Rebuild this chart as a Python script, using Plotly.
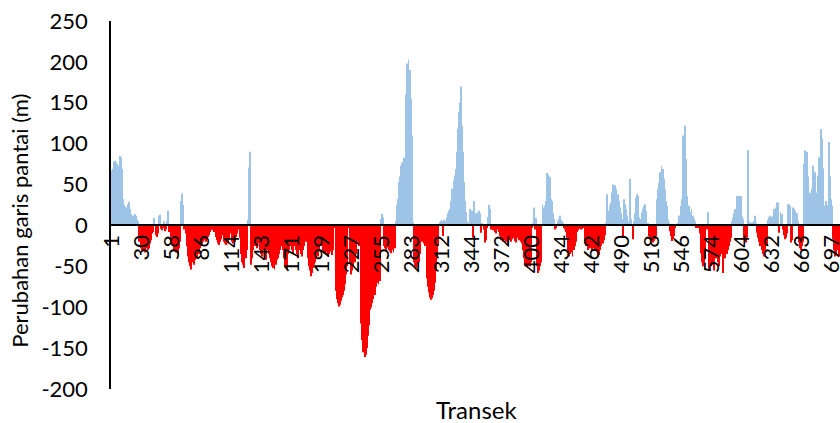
import plotly.graph_objects as go

# Tick labels of the transect (category) axis, one every 28 bars
tick_labels = ["1", "30", "58", "86", "114", "143", "171", "199", "227", "255",
               "283", "312", "344", "372", "400", "434", "462", "490", "518",
               "546", "574", "604", "632", "663", "697"]

# Shoreline change (m) per transect, grouped by tick interval
seg00 = [67, 69, 78, 79, 77, 75, 73, 71, 85, 83, 69, 32, 25, 23, 22, 26, 29, 20, 14, 12,
         12, 9, 14, 12, 7, 5, -20, -28]
seg01 = [-30, -32, -30, -33, -28, -25, -30, -28, -22, -18, -10, -8, 9, -12, -14, -10, 12, 13,
         -4, -6, -3, 5, -7, -5, 5, 18, -8, -15]
seg02 = [-22, -25, -30, -32, -33, -30, -35, -28, -20, 30, 39, 25, -5, -10, -25, -38, -45,
         -50, -54, -45, -40, -48, -42, -36, -40, -30, -35, -28]
seg03 = [-22, -20, -18, -15, -20, -17, -14, -12, -8, -5, -3, -6, -8, -14, -18, -22, -24,
         -20, -17, -12, -3, -20, -22, -24, -20, -22, -17, -10]
seg04 = [-20, -22, -18, -20, -14, -10, -5, -4, -15, -35, -45, -48, -52, -40, -30, 7, 71, 90,
         -48, -40, -30, -15, -25, -20, -28, -22, -30, -35]
seg05 = [-38, -30, -25, -35, -42, -3, -30, -35, -40, -45, -50, -52, -54, -48, -42, -40, -35,
         -30, -3, -25, -30, -40, -50, -45, -54, -35, -30, -25]
seg06 = [-30, -35, -3, -25, -30, -35, -40, -30, -28, -35, -38, -30, -25, -20, -3, -40, -50,
         -55, -62, -58, -52, -48, -45, -40, -35, -38, -30, -25]
seg07 = [-3, -30, -32, -35, -30, -33, -38, -35, -30, -32, -36, -30, -3, -80, -90, -95, -99,
         -97, -92, -88, -85, -80, -72, -60, -50, -3, -45, -60]
seg08 = [-55, -50, -40, -45, -35, -20, -18, -25, -3, -120, -140, -155, -161, -158, -150,
         -135, -122, -103, -100, -95, -90, -80, -85, -75, -70, -72, -68, 8]
seg09 = [14, 10, -25, -28, -30, -27, -22, -30, -32, -34, -30, -33, -28, 5, 25, 32, 53, 60,
         73, 77, 70, 83, 67, 160, 198, 203, 190, 155]
seg10 = [110, 4, -45, -50, -52, -48, -40, -45, -35, -3, -20, -22, -25, -3, -65, -75, -82,
         -88, -91, -89, -85, -80, -70, -55, -40, -25, 4, 6]
seg11 = [5, -13, 7, 3, 5, 10, 15, 18, 20, 30, 45, 55, 61, 69, 90, 118, 139, 150, 170, 122,
         90, 53, 30, 16, 5, 3, 20, 18]
seg12 = [18, -15, 30, 12, 15, 12, 16, 18, 15, -9, 3, -5, -21, -18, -3, 10, 25, 20, -5, -4,
         -6, -3, -8, -10, -5, -8, -13, -18]
seg13 = [-15, -20, -18, -14, -20, -16, -22, -18, -13, -20, -17, -15, -19, -21, -15, -13,
         -18, -16, -20, -22, -30, -40, -48, -50, -52, -50, -50, -45]
seg14 = [-3, 3, 22, -5, 9, -50, -58, -55, -50, -45, 26, 22, 24, 30, 64, 62, 60, 59, 32, 30,
         15, 8, -5, -3, 5, 8, 12, 7]
seg15 = [5, 3, -3, -5, -8, -15, -30, -38, -35, -33, -38, -30, -25, -20, -8, -6, -4, -3, -5,
         -4, -3, -2, -22, -25, -30, -27, -28, -25]
seg16 = [-30, -28, -26, -30, -28, -32, -38, -36, -30, -25, -22, -18, -12, 3, 38, 12, 18, 24,
         28, 40, 50, 48, 49, 45, 38, 30, 22, 15]
seg17 = [8, -15, 32, 26, 20, 12, 5, 3, 57, 8, -17, 5, 15, 34, 38, 36, 10, 8, 5, 16, 20, 24,
         26, 18, 3, -13, -15, -18]
seg18 = [-20, -21, -19, -17, -13, 32, 45, 52, 65, 73, 69, 57, 44, 30, 24, 7, 3, -7, -13, -19,
         -17, -13, -3, 2, 3, 12, 12, 24]
seg19 = [32, 110, 50, 122, 81, 36, 20, 24, 16, 20, 12, 8, 5, -3, -2, -3, -2, -10, -34, -45,
         -50, -48, -40, -5, 16, -54, -45, -50]
seg20 = [-48, -42, -55, -35, -40, -30, -45, -50, -38, -35, -58, -30, -40, -28, -35, -30, -25,
         -20, -15, 5, 10, 15, 20, 36, 35, 36, 30, 36]
seg21 = [12, 8, -17, -20, -21, -15, 92, 5, 3, 4, 2, 5, 12, 3, -9, -15, -20, -25, -22, -30,
         -35, -38, -30, -25, 7, 10, 12, 8]
seg22 = [10, 12, 20, 20, 22, 28, 28, -9, 16, 14, -5, -12, -17, -15, -10, 26, 26, 24, -21, -18,
         22, 20, 18, 15, 5, -21, -28, -30]
seg23 = [-25, -20, 75, 92, 85, 90, 60, 40, 40, 45, 73, 65, 65, 38, 40, 61, 83, 83, 118, 106,
         70, 24, 30, 20, 25, 102, 60, 32]
seg24 = [24, -17, -30, -38, -35, -25, -30, -38]

values = (seg00 + seg01 + seg02 + seg03 + seg04 + seg05 + seg06 + seg07 + seg08 + seg09 +
          seg10 + seg11 + seg12 + seg13 + seg14 + seg15 + seg16 + seg17 + seg18 + seg19 +
          seg20 + seg21 + seg22 + seg23 + seg24)

y_ticks = [-200, -150, -100, -50, 0, 50, 100, 150, 200, 250]
y_tick_text = ["-200", "-150", "-100", "-50", "0", "50", "100", "150", "200", "250"]

BLUE = "#9DC3E6"
RED = "#FF0000"
FONT = "Lato, 'Liberation Sans', sans-serif"

positions = list(range(len(values)))
colors = [BLUE if v >= 0 else RED for v in values]
tick_positions = [positions[i * 28] for i in range(len(tick_labels))]

fig = go.Figure(go.Bar(x=positions, y=values, marker=dict(color=colors, line_width=0),
                       hoverinfo="x+y"))

ymin, ymax = -200, 250
fig.update_layout(
    width=840, height=423,
    margin=dict(l=111, r=0, t=21, b=34),
    paper_bgcolor="white", plot_bgcolor="white",
    bargap=0.1,
    showlegend=False,
    font=dict(family=FONT, size=22, color="#000000"),
    xaxis=dict(
        range=[-0.5, len(values) - 0.5],
        tickmode="array", tickvals=tick_positions, ticktext=tick_labels,
        tickangle=-90, ticks="", showgrid=False, zeroline=False,
        showline=True, linecolor="black", linewidth=1.5,
        anchor="free", position=(0 - ymin) / (ymax - ymin),
        tickfont=dict(size=22, family=FONT),
        ticklabeloverflow="allow",
        automargin=False,
    ),
    yaxis=dict(
        range=[ymin, ymax],
        tickmode="array", tickvals=y_ticks, ticktext=y_tick_text,
        showgrid=False, zeroline=False,
        showline=True, linecolor="black", linewidth=1.5,
        ticks="outside", ticklen=17, tickcolor="rgba(0,0,0,0)",
        tickfont=dict(size=22, family=FONT),
        automargin=False,
    ),
    annotations=[
        dict(text="Transek", x=0.502, y=-0.057, xref="paper", yref="paper",
             xanchor="center", yanchor="middle", showarrow=False,
             font=dict(size=24, family=FONT)),
        dict(text="Perubahan garis pantai (m)", x=-0.125, y=0.457, xref="paper",
             yref="paper", xanchor="center", yanchor="middle", textangle=-90,
             showarrow=False, font=dict(size=22, family=FONT)),
    ],
)

fig.write_html("out.html", config={"displayModeBar": False},
               post_script="document.body.style.margin='0';")
